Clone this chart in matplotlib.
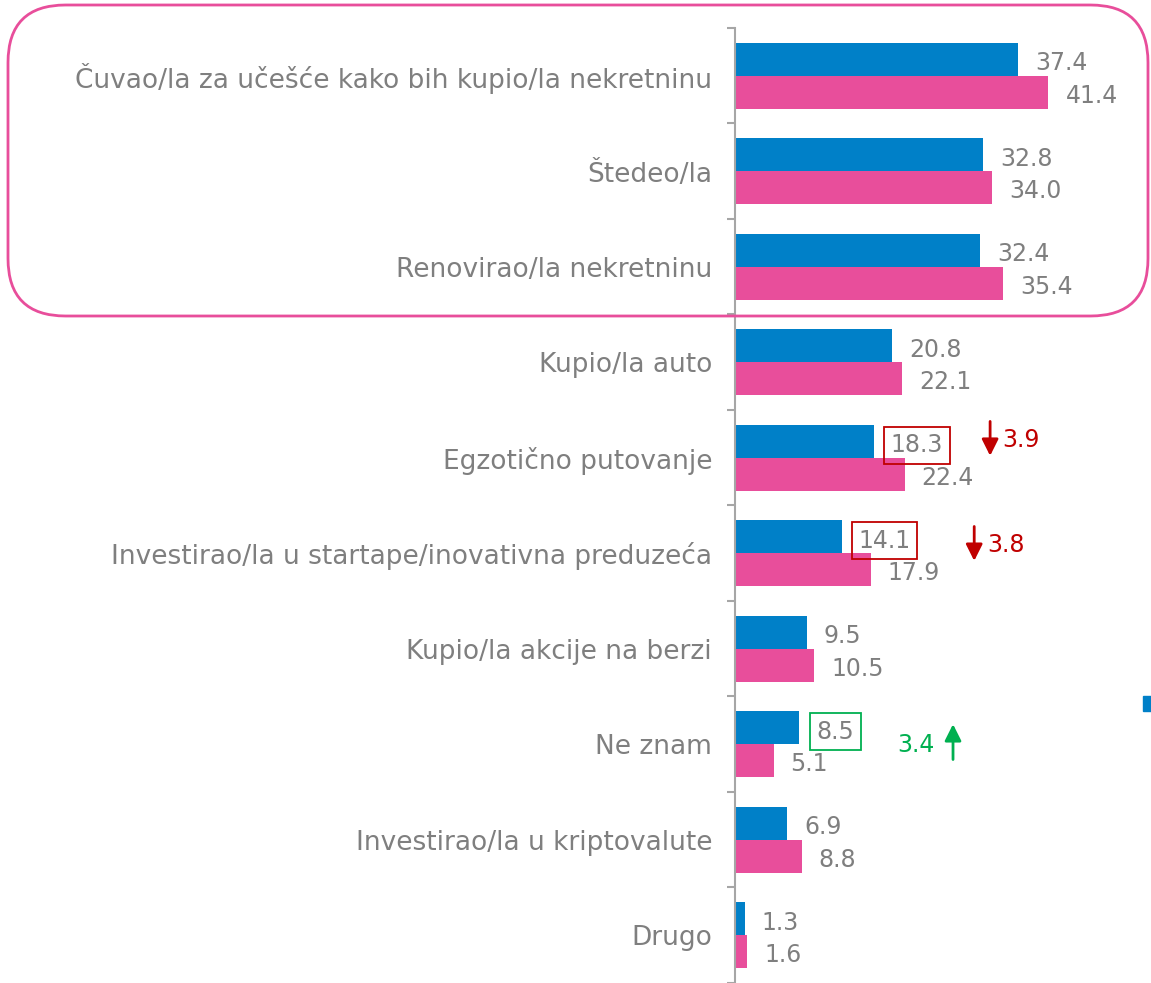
import matplotlib
matplotlib.use("Agg")
import matplotlib.pyplot as plt
from matplotlib.patches import FancyBboxPatch, Rectangle

categories = [
    "Čuvao/la za učešće kako bih kupio/la nekretninu",
    "Štedeo/la",
    "Renovirao/la nekretninu",
    "Kupio/la auto",
    "Egzotično putovanje",
    "Investirao/la u startape/inovativna preduzeća",
    "Kupio/la akcije na berzi",
    "Ne znam",
    "Investirao/la u kriptovalute",
    "Drugo",
]
series_blue = [37.4, 32.8, 32.4, 20.8, 18.3, 14.1, 9.5, 8.5, 6.9, 1.3]
series_pink = [41.4, 34.0, 35.4, 22.1, 22.4, 17.9, 10.5, 5.1, 8.8, 1.6]
# (category index, change label, direction, colour)
changes = [(4, "3.9", "down", "#C00000"), (5, "3.8", "down", "#C00000"), (7, "3.4", "up", "#00B050")]

BLUE = "#0080C8"
PINK = "#E84E9B"
GRAY = "#7F7F7F"

W, H = 1151, 983
fig = plt.figure(figsize=(W / 100, H / 100), dpi=100)
plt.rcParams['font.family'] = ['DejaVu Sans']

ax_left = 735 / W
ax = fig.add_axes([ax_left, 0, 1 - ax_left, 1])
px_per_unit_y = 95.7
top_boundary_px = 28
ylim_top = -0.5 - top_boundary_px / px_per_unit_y
ylim_bot = ylim_top + H / px_per_unit_y
ax.set_ylim(ylim_bot, ylim_top)
px_per_unit_x = 7.57
ax.set_xlim(0, (W - 735) / px_per_unit_x)

n = len(categories)
ys = list(range(n))
bh = 0.345
off = 0.172
ax.barh([y - off for y in ys], series_blue, height=bh, color=BLUE)
ax.barh([y + off for y in ys], series_pink, height=bh, color=PINK)

VFS = 17
boxed = {c[0]: c[3] for c in changes}
lbl_dx = 17 / px_per_unit_x
for i in ys:
    kw = {}
    if i in boxed:
        kw["bbox"] = dict(boxstyle="square,pad=0.28", fc="none", ec=boxed[i], lw=1.3)
    ax.text(series_blue[i] + lbl_dx, i - off + 0.04, f"{series_blue[i]:.1f}",
            va="center", ha="left", fontsize=VFS, color=GRAY, **kw)
    ax.text(series_pink[i] + lbl_dx, i + off + 0.04, f"{series_pink[i]:.1f}",
            va="center", ha="left", fontsize=VFS, color=GRAY)

# change indicators
arrow_specs = {
    4: dict(ax_x=33.7, y0=-0.38, y1=-0.02, tx=35.3, ty=-0.19, ha="left"),
    5: dict(ax_x=31.6, y0=-0.28, y1=0.08, tx=33.3, ty=-0.09, ha="left"),
    7: dict(ax_x=28.8, y0=0.16, y1=-0.21, tx=26.4, ty=0.01, ha="right"),
}
for idx, lab, direction, col in changes:
    s = arrow_specs[idx]
    ax.annotate("", xy=(s["ax_x"], idx + s["y1"]), xytext=(s["ax_x"], idx + s["y0"]),
                arrowprops=dict(arrowstyle="-|>,head_length=1.0,head_width=0.5",
                                color=col, lw=2.0, shrinkA=0, shrinkB=0))
    ax.text(s["tx"], idx + s["ty"], lab, color=col, fontsize=VFS, va="center", ha=s["ha"])

# axes styling
for sp in ["top", "right", "bottom"]:
    ax.spines[sp].set_visible(False)
ax.spines["left"].set_color("#A6A6A6")
ax.spines["left"].set_linewidth(1.5)
ax.spines["left"].set_bounds(n - 0.5 + 0.2, -0.5)
ax.set_xticks([])
ax.set_yticks(ys)
ax.set_yticklabels(categories, fontsize=19, color=GRAY)
ax.tick_params(axis="y", which="major", length=0, pad=16.5)
ax.set_yticks([i - 0.5 for i in range(n + 1)], minor=True)
ax.tick_params(axis="y", which="minor", length=6, width=1.5, color="#A6A6A6")
ax.patch.set_alpha(0)

# rounded highlight frame around the top three categories
frame = FancyBboxPatch((8 / W, 1 - 316 / H), (1148 - 8) / W, (316 - 5) / H,
                       boxstyle="round,pad=0,rounding_size=0.05",
                       transform=fig.transFigure, fill=False, ec="#E84E9B", lw=2,
                       mutation_aspect=W / H)
fig.patches.append(frame)

# clipped legend marker at right edge
fig.patches.append(Rectangle((1143 / W, 1 - 711 / H), 9 / W, 15 / H,
                             transform=fig.transFigure, color=BLUE))

fig.savefig("out.png", dpi=100)
